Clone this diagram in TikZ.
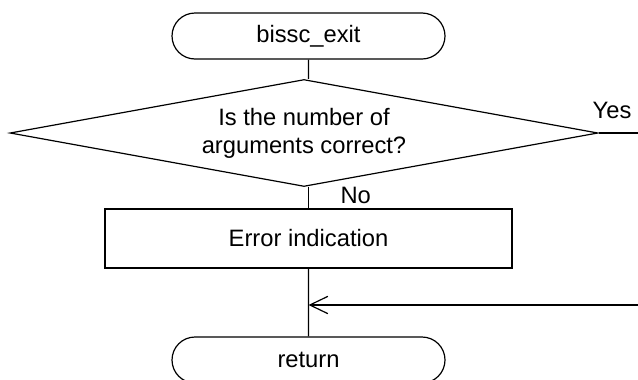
\documentclass[tikz,border=0pt]{standalone}
\usepackage{fontspec}
\setmainfont{Liberation Sans}
\usetikzlibrary{shapes.geometric,shapes.misc,arrows.meta}

\begin{document}
\begin{tikzpicture}[x=0.75pt,y=-0.75pt,line width=0.9pt,
	every node/.style={font=\fontsize{17.8}{21}\selectfont},
	term/.style={shape=rounded rectangle,draw=black,minimum width=204.75pt,minimum height=34.5pt,inner sep=0pt},
	decision/.style={shape=diamond,draw=black,aspect=5.5,minimum width=441pt,minimum height=80.25pt,inner sep=0pt,align=center},
	proc/.style={shape=rectangle,draw=black,minimum width=305.25pt,minimum height=44.25pt,inner sep=0pt},
	lbl/.style={inner sep=0pt}]
	
	\useasboundingbox (0,0) rectangle (638,379);
	
	\node[term] (a) at (308.5,36)     {bissc\_exit};
	\node[decision] (b) at (304,133)     {Is the number of\\arguments correct?};
	\node[proc] (c) at (308.5,238.5)     {Error indication};
	\node[term] (d) at (308.5,360)     {return};
	\coordinate (e) at (638,133);
	\coordinate (f) at (638,305);
	
	\node[lbl,anchor=base] (yes) at (612,118)     {Yes};
	\node[lbl,anchor=base west] (no) at (340,203)     {No};
	
	\path[-] (a) edge (a |- b.north);
	\path[-] (b.south -| a) edge (c);
	\path[-] (c) edge (d);
	\path[-] (b.east) edge (e);
	\path[-{Straight Barb[length=13.5pt,width=13pt]}] (f) edge (c |- f);
	\end{tikzpicture}
\end{document}
